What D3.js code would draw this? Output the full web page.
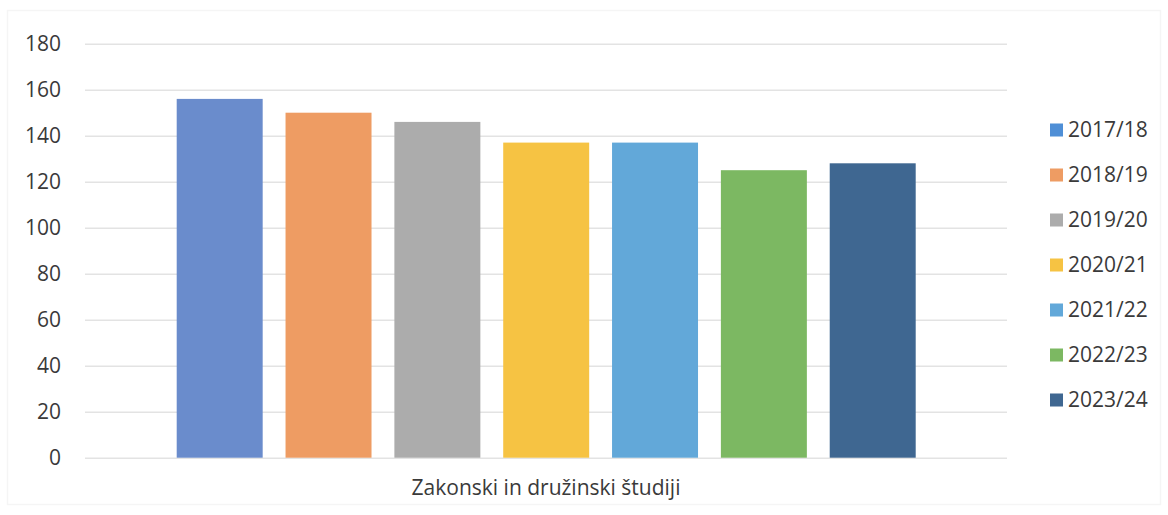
<!DOCTYPE html>
<html>
<head>
<meta charset="utf-8">
<script src="https://cdn.jsdelivr.net/npm/d3@7"></script>
<style>
  html, body { margin: 0; padding: 0; background: #ffffff; }
  svg { display: block; }
  text { font-family: "Open Sans", "Lato", sans-serif; fill: #3a3a3a; }
</style>
</head>
<body>
<svg id="chart" width="1168" height="515"></svg>
<script>
const category = "Zakonski in družinski študiji";
const seriesNames = ["2017/18", "2018/19", "2019/20", "2020/21", "2021/22", "2022/23", "2023/24"];
const values = [156, 150, 146, 137, 137, 125, 128];
const colors = ["#6a8ccc", "#ee9c63", "#acacac", "#f6c343", "#62a8d9", "#7cb862", "#3f6791"];
const legendColors = ["#4f8fd6", "#ee9c63", "#acacac", "#f6c343", "#62a8d9", "#7cb862", "#3f6791"];
const yTicks = [0, 20, 40, 60, 80, 100, 120, 140, 160, 180];

const FS = 21;
const svg = d3.select("#chart");

// faint chart border
svg.append("rect")
  .attr("x", 7.5).attr("y", 10.5)
  .attr("width", 1153).attr("height", 494)
  .attr("fill", "none").attr("stroke", "#f5f5f5").attr("stroke-width", 1.5);

const plotLeft = 85, plotRight = 1007;
const y = d3.scaleLinear().domain([0, 180]).range([457.7, 43.7]);

const x0 = d3.scaleBand().domain([category]).range([plotLeft, plotRight]).paddingInner(0).paddingOuter(0);
const x1 = d3.scaleBand().domain(seriesNames)
  .range([176.7, 915.7])
  .paddingInner(0.21).paddingOuter(0);

// gridlines + y labels
const yAxis = d3.axisLeft(y).tickValues(yTicks).tickSize(-(plotRight - plotLeft)).tickPadding(24);
const gy = svg.append("g").attr("transform", `translate(${plotLeft},0)`).call(yAxis);
gy.select(".domain").remove();
gy.selectAll(".tick line").attr("stroke", "#e3e3e3").attr("stroke-width", 1.5);
gy.selectAll(".tick text")
  .attr("font-size", FS)
  .attr("fill", "#3a3a3a")
  .style("font-family", '"Open Sans", "Lato", sans-serif');

// bars
svg.append("g").selectAll("rect")
  .data(seriesNames.map((s, i) => ({ s, v: values[i], c: colors[i] })))
  .join("rect")
  .attr("x", d => x1(d.s))
  .attr("y", d => y(d.v))
  .attr("width", x1.bandwidth())
  .attr("height", d => y(0) - y(d.v))
  .attr("fill", d => d.c);

// x axis category label
const xAxis = d3.axisBottom(x0).tickSize(0).tickPadding(0);
const gx = svg.append("g").attr("transform", `translate(0,${y(0)})`).call(xAxis);
gx.select(".domain").remove();
gx.selectAll(".tick text")
  .attr("dy", 0)
  .attr("y", 37.5)
  .attr("font-size", FS)
  .attr("fill", "#3a3a3a")
  .style("font-family", '"Open Sans", "Lato", sans-serif');

// legend
const legend = svg.append("g");
const ly = d3.scalePoint().domain(seriesNames).range([130, 400]);
const items = legend.selectAll("g").data(seriesNames).join("g")
  .attr("transform", d => `translate(1050,${ly(d)})`);
items.append("rect")
  .attr("x", 0).attr("y", -6.5).attr("width", 13).attr("height", 13)
  .attr("fill", (d, i) => legendColors[i]);
items.append("text")
  .attr("x", 18).attr("y", 0).attr("dy", "0.35em")
  .attr("font-size", FS)
  .text(d => d);
</script>
</body>
</html>
